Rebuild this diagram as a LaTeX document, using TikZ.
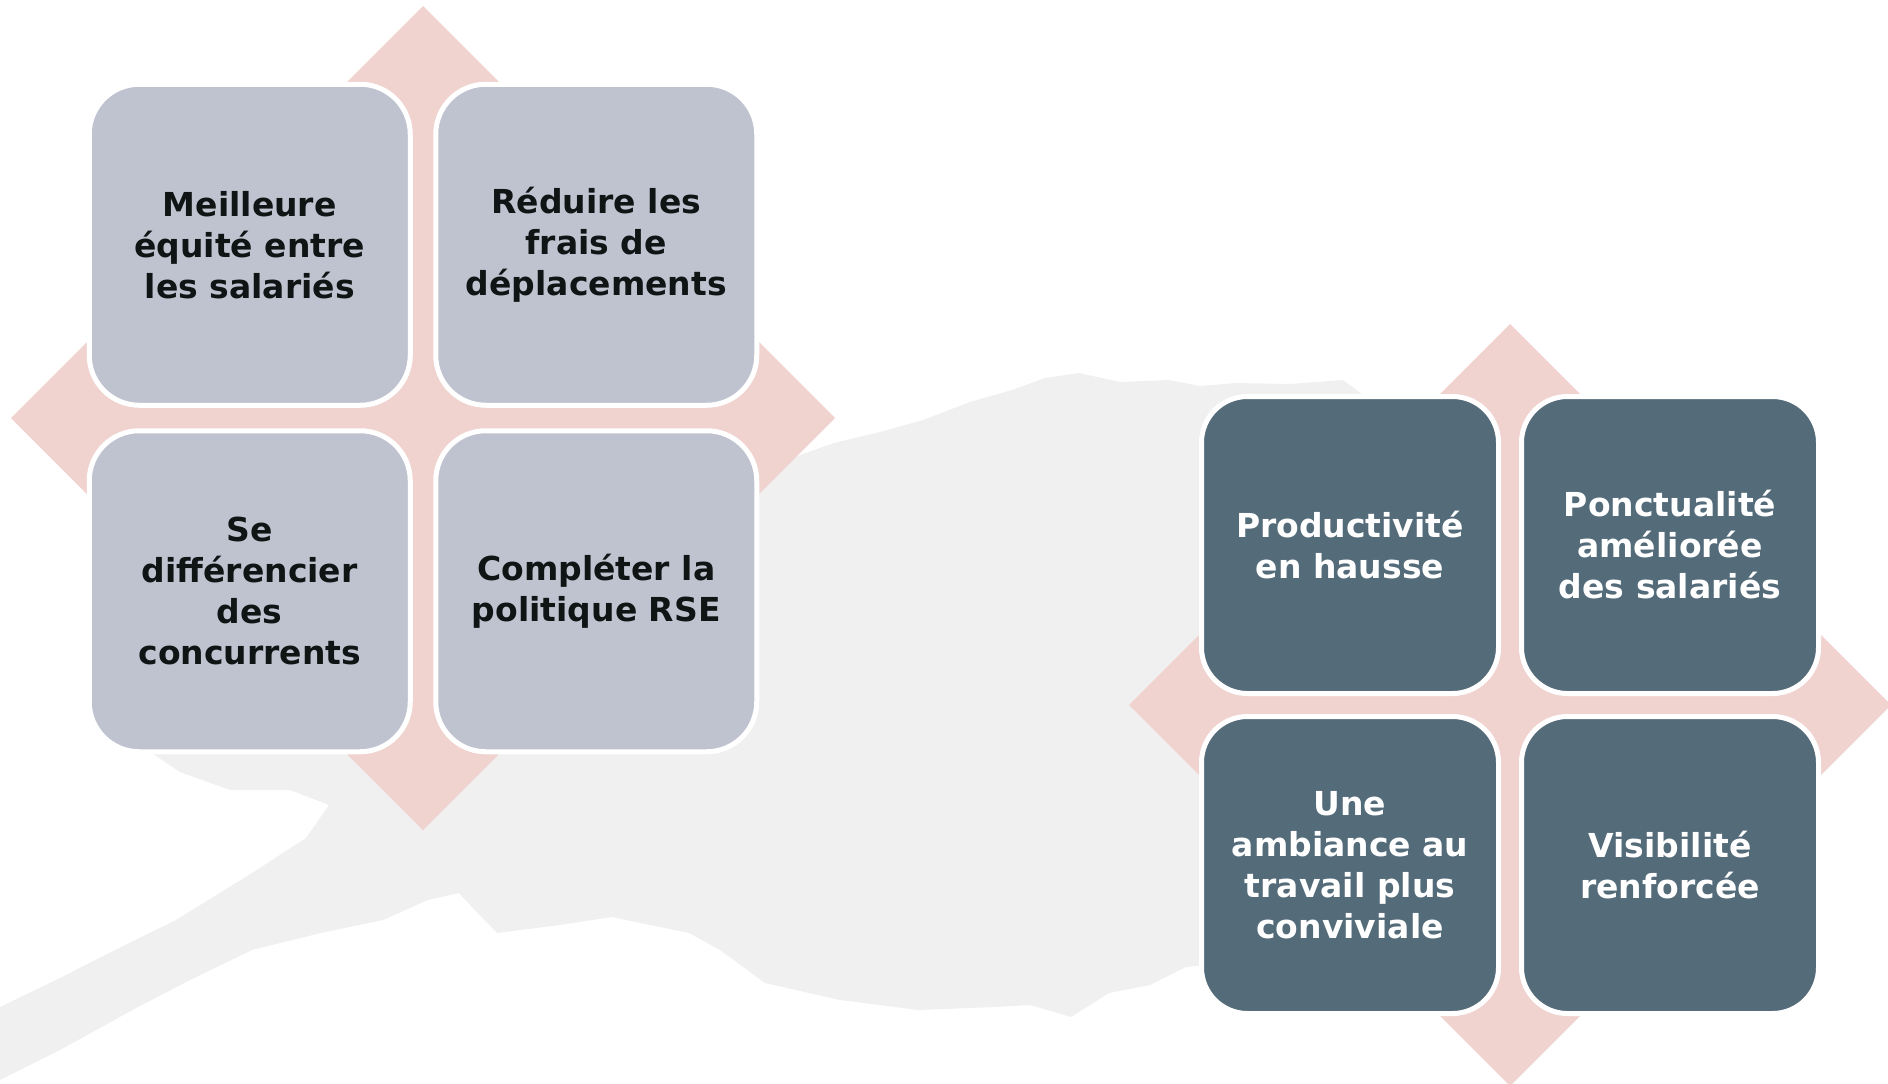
\documentclass[tikz,border=0pt]{standalone}
\usepackage{fontspec}
\setmainfont{DejaVu Sans}
\definecolor{lightbox}{RGB}{191,195,208}
\definecolor{darkbox}{RGB}{84,107,122}
\definecolor{petal}{RGB}{240,211,207}
\definecolor{treegray}{RGB}{241,240,240}
\definecolor{inkblack}{RGB}{16,20,20}
\begin{document}
\begin{tikzpicture}[x=1pt,y=-1pt,
        quad/.style={rectangle,draw=white,line width=5pt,align=center,inner sep=0pt,
                     font=\fontsize{33}{41}\selectfont\bfseries},
        lightquad/.style={quad,fill=lightbox,text=inkblack,rounded corners=50pt,
                          minimum width=321pt,minimum height=321pt},
        darkquad/.style={quad,fill=darkbox,text=white,rounded corners=46pt,
                         minimum width=297pt,minimum height=297pt}]
    \useasboundingbox (0,0) rectangle (1888,1084);

    % Tree in the background
    \fill[treegray] (0,1007) -- (60,978) -- (115,950) -- (176,920) -- (252,873)
        -- (306,838) -- (329,805) -- (290,790) -- (230,790) -- (180,772) -- (150,752)
        -- (200,700) -- (700,500) -- (760,478) -- (800,455) -- (834,443) -- (880,432)
        -- (923,420) -- (970,402) -- (1012,390) -- (1045,378) -- (1079,373) -- (1120,382)
        -- (1169,380) -- (1200,386) -- (1236,383) -- (1290,384) -- (1343,380)
        -- (1370,400) -- (1370,950) -- (1186,967) -- (1150,985) -- (1109,993)
        -- (1071,1017) -- (1030,1005) -- (995,1007) -- (918,1010) -- (840,1000)
        -- (765,983) -- (720,950) -- (689,933) -- (650,925) -- (612,917) -- (560,925)
        -- (497,933) -- (470,905) -- (459,893) -- (428,900) -- (383,920) -- (321,933)
        -- (252,950) -- (190,980) -- (138,1007) -- (60,1050) -- (0,1080) -- cycle;

    % Left diamond
    \coordinate (lc) at (423,418);
    \fill[petal] (lc) ++(-412,0) -- ++(412,-412) -- ++(412,412) -- ++(-412,412) -- cycle;

    % Left boxes
    \node[lightquad] (equite) at (249.75,244.75) {Meilleure\\équité entre\\les salariés};
    \node[lightquad] (frais) at (596.25,244.75) {Réduire les\\frais de\\déplacements};
    \node[lightquad] (concur) at (249.75,591.25) {Se\\différencier\\des\\concurrents};
    \node[lightquad] (rse) at (596.25,591.25) {Compléter la\\politique RSE};

    % Right diamond
    \coordinate (rc) at (1510,705);
    \fill[petal] (rc) ++(-381,0) -- ++(381,-381) -- ++(381,381) -- ++(-381,381) -- cycle;

    % Right boxes
    \node[darkquad] (prod) at (1350,545) {Productivité\\en hausse};
    \node[darkquad] (ponct) at (1670,545) {Ponctualité\\améliorée\\des salariés};
    \node[darkquad] (ambiance) at (1350,865) {Une\\ambiance au\\travail plus\\conviviale};
    \node[darkquad] (visib) at (1670,865) {Visibilité\\renforcée};
\end{tikzpicture}
\end{document}
